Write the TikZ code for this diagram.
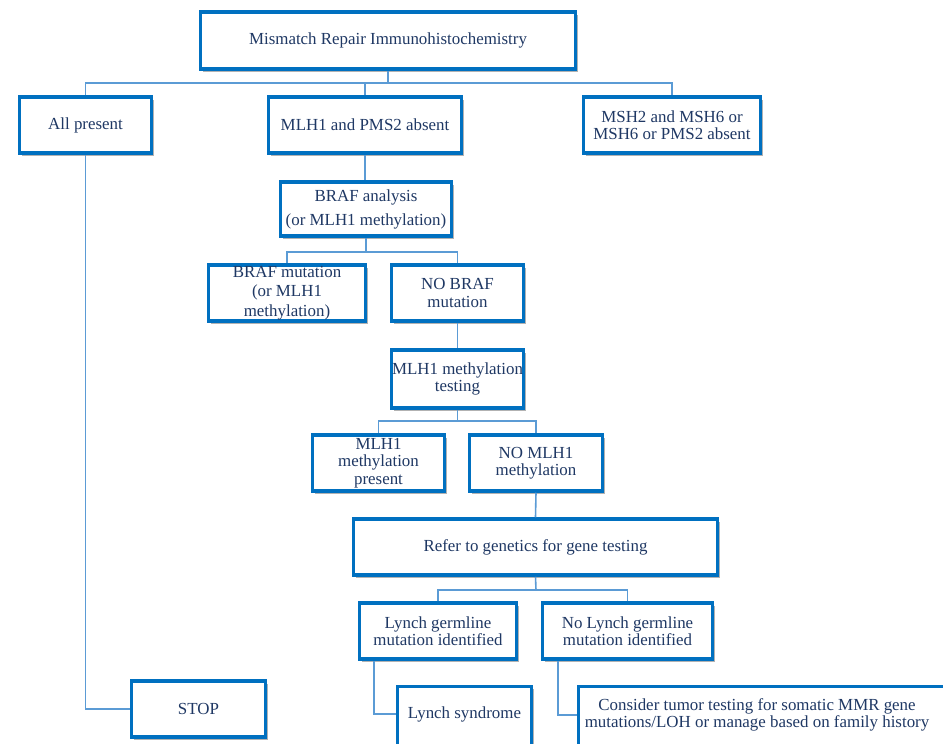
\documentclass[tikz,border=0pt]{standalone}
\usepackage{fontspec}
\setmainfont{Liberation Serif}
\usetikzlibrary{shadows}
\definecolor{boxblue}{HTML}{0070C0}
\definecolor{linkblue}{HTML}{5B9BD5}
\definecolor{txtblue}{HTML}{1F3864}
\begin{document}
\begin{tikzpicture}[x=1pt,y=-1pt,
  box/.style={draw=boxblue, line width=3.5pt, fill=white, inner sep=0pt, align=center,
    text=txtblue, font=\fontsize{16.9}{17.5}\selectfont,
    drop shadow={shadow xshift=2.5pt, shadow yshift=-2.5pt, fill=black, opacity=0.3}},
  txt/.style={inner sep=0pt, align=center, text=txtblue, font=\fontsize{16.9}{17.5}\selectfont},
  lskip/.style={font=\fontsize{16.9}{#1}\selectfont},
  conn/.style={draw=linkblue, line width=1.6pt}]
\useasboundingbox (0,0) rectangle (943,744);
% boxes
\node[box, minimum width=375, minimum height=57] (top) at (388,40.5) {Mismatch Repair Immunohistochemistry};
\node[box, minimum width=132, minimum height=56] (allp) at (85.5,125) {All present};
\node[box, minimum width=193, minimum height=56] (mlh) at (365,125) {MLH1 and PMS2 absent};
\node[box, minimum width=177, minimum height=56] (msh) at (672,125) {MSH2 and MSH6 or\\MSH6 or PMS2 absent};
\node[box, lskip=24, minimum width=171, minimum height=54] (braf) at (366,209) {BRAF analysis\\(or MLH1 methylation)};
\node[box, lskip=19.5, minimum width=157, minimum height=56] (brafm) at (287,293) {BRAF mutation\\(or MLH1\\methylation)};
\node[box, minimum width=132, minimum height=56] (nobraf) at (457.5,293) {NO BRAF\\mutation};
\node[box, minimum width=132, minimum height=58] (mtest) at (457.5,379) {MLH1 methylation\\testing};
\node[box, minimum width=132, minimum height=56] (mpres) at (378.5,463) {MLH1\\methylation\\present};
\node[box, minimum width=133, minimum height=56] (nomlh) at (536,463) {NO MLH1\\methylation};
\node[box, minimum width=364, minimum height=56] (refer) at (535.5,547) {Refer to genetics for gene testing};
\node[box, minimum width=157, minimum height=56] (lgerm) at (438,631) {Lynch germline\\mutation identified};
\node[box, minimum width=170, minimum height=56] (nolg) at (627.5,631) {No Lynch germline\\mutation identified};
\node[box, minimum width=134, minimum height=56] (stop) at (198.5,709) {STOP};
\node[box, minimum width=134, minimum height=80] (lsynbox) at (464.5,726.5) {};
\node[txt] (lsyn) at (464.5,714) {Lynch syndrome};
\node[box, minimum width=380, minimum height=80] (consbox) at (768.5,726.5) {};
\node[txt] (cons) at (757,715) {Consider tumor testing for somatic MMR gene\\mutations/LOH or manage based on family history};
% connectors
\coordinate (b1) at (388,83);
\coordinate (b2) at (366,252);
\coordinate (b3) at (457.5,421);
\coordinate (b4) at (536,590);
\draw[conn] (top.south) -- (b1);
\draw[conn] (allp.north) |- (b1) -| (msh.north);
\draw[conn] (mlh.north) -- (mlh.north |- b1);
\draw[conn] (mlh.south) -- (mlh.south |- braf.north);
\draw[conn] (braf.south) -- (b2);
\draw[conn] (brafm.north) |- (b2) -| (nobraf.north);
\draw[conn] (nobraf.south) -- (mtest.north);
\draw[conn] (mtest.south) -- (b3);
\draw[conn] (mpres.north) |- (b3) -| (nomlh.north);
\draw[conn] (nomlh.south) -- (refer.north);
\draw[conn] (refer.south) -- (b4);
\draw[conn] (lgerm.north) |- (b4) -| (nolg.north);
\draw[conn] (allp.south) |- (stop.west);
\draw[conn] ([xshift=-64pt]lgerm.south) |- (lsynbox.west |- lsyn);
\draw[conn] ([xshift=-69.5pt]nolg.south) |- (consbox.west |- cons);
\end{tikzpicture}
\end{document}
